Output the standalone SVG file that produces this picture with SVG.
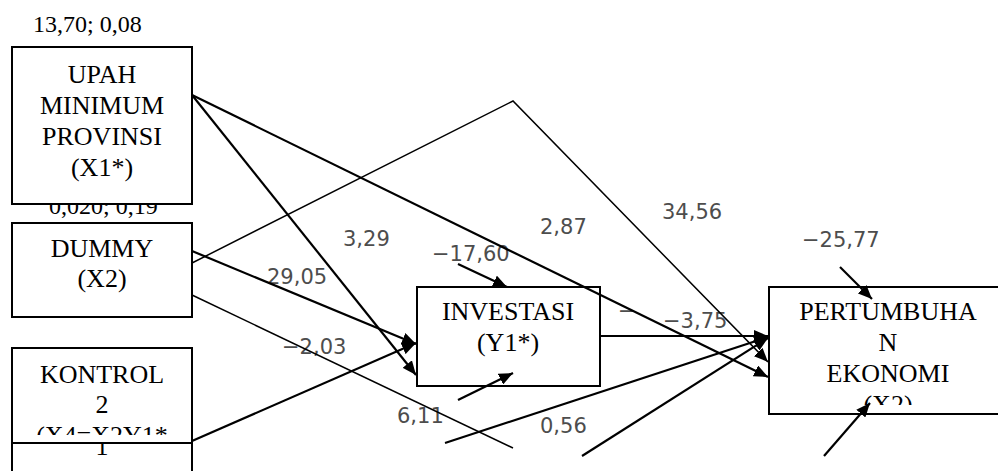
<svg xmlns="http://www.w3.org/2000/svg" width="998" height="471" viewBox="0 0 998 471">
<style>
.box{fill:#fff;stroke:#000;stroke-width:2}
.t{font-family:"Liberation Serif","Times New Roman",serif;font-size:26px;fill:#000;text-anchor:middle}
.lbl{font-family:"Liberation Serif","Times New Roman",serif;font-size:24px;fill:#000}
.c{font-family:"DejaVu Sans",Verdana,sans-serif;font-size:21px;fill:#4d4d4d}
.ln{stroke:#000;stroke-width:2.2;fill:none}
.thin{stroke:#000;stroke-width:1.5;fill:none}
.arr{marker-end:url(#ah)}
</style>
<defs>
<marker id="ah" viewBox="0 0 14 12" refX="14" refY="6" markerWidth="14" markerHeight="12" markerUnits="userSpaceOnUse" orient="auto">
<path d="M0,0 L14,6 L0,12 z" fill="#000"/>
</marker>
<clipPath id="clipK"><rect x="12" y="348" width="180" height="87"/></clipPath>
<clipPath id="clipK2"><rect x="12" y="444" width="180" height="30"/></clipPath>
<clipPath id="clipP"><rect x="769" y="287" width="240" height="118"/></clipPath>
</defs>

<text class="lbl" x="33" y="32">13,70; 0,08</text>
<text class="lbl" x="49" y="214">0,020; 0,19</text>

<g id="upah">
<rect class="box" x="12" y="47" width="180" height="157"/>
<text class="t" x="102" y="83">UPAH</text>
<text class="t" x="102" y="114">MINIMUM</text>
<text class="t" x="102" y="145">PROVINSI</text>
<text class="t" x="102" y="176">(X1*)</text>
</g>
<g id="dummy">
<rect class="box" x="12" y="223" width="180" height="94"/>
<text class="t" x="102" y="257">DUMMY</text>
<text class="t" x="102" y="287">(X2)</text>
</g>
<g id="kontrol">
<rect class="box" x="12" y="348" width="180" height="95"/>
<g clip-path="url(#clipK)">
<text class="t" x="102" y="383">KONTROL</text>
<text class="t" x="102" y="413">2</text>
<text class="t" x="102" y="444">(X4=X2Y1*</text>
</g>
<rect class="box" x="12" y="443" width="180" height="40"/>
<g clip-path="url(#clipK2)">
<text class="t" x="102" y="455">1</text>
</g>
</g>
<g id="investasi">
<rect class="box" x="417" y="287" width="183" height="99"/>
<text class="t" x="508" y="320">INVESTASI</text>
<text class="t" x="508" y="351">(Y1*)</text>
</g>
<g id="pertumbuhan">
<rect class="box" x="769" y="287" width="240" height="127"/>
<g clip-path="url(#clipP)">
<text class="t" x="888" y="320">PERTUMBUHA</text>
<text class="t" x="888" y="351">N</text>
<text class="t" x="888" y="382">EKONOMI</text>
<text class="t" x="888" y="413">(X2)</text>
</g>
</g>

<g id="labels">
<text class="c" x="343" y="246">3,29</text>
<text class="c" x="267" y="284">29,05</text>
<text class="c" x="432" y="261">−17,60</text>
<text class="c" x="282" y="354">−2,03</text>
<text class="c" x="397" y="423">6,11</text>
<text class="c" x="540" y="234">2,87</text>
<text class="c" x="662" y="219">34,56</text>
<text class="c" x="802" y="247">−25,77</text>
<text class="c" x="663" y="328">−3,75</text>
<text class="c" x="618" y="318">−</text>
<text class="c" x="540" y="433">0,56</text>
</g>

<g id="connectors">
<path class="ln arr" d="M192,95 L768,377"/>
<path class="ln arr" d="M192,95 L416,375"/>
<path class="thin arr" d="M192,263 L513,101 L768,362"/>
<path class="ln arr" d="M192,251 L416,344"/>
<path class="thin" d="M192,295 L513,448"/>
<path class="ln arr" d="M192,441 L416,343"/>
<path class="ln arr" d="M458,264 L507,287"/>
<path class="ln arr" d="M458,400 L513,373"/>
<path class="ln arr" d="M445,443 L768,337"/>
<path class="ln arr" d="M582,456 L768,338"/>
<path class="ln arr" d="M600,336 L768,336"/>
<path class="ln arr" d="M840,267 L872,299"/>
<path class="ln arr" d="M824,456 L870,403"/>
</g>
</svg>
